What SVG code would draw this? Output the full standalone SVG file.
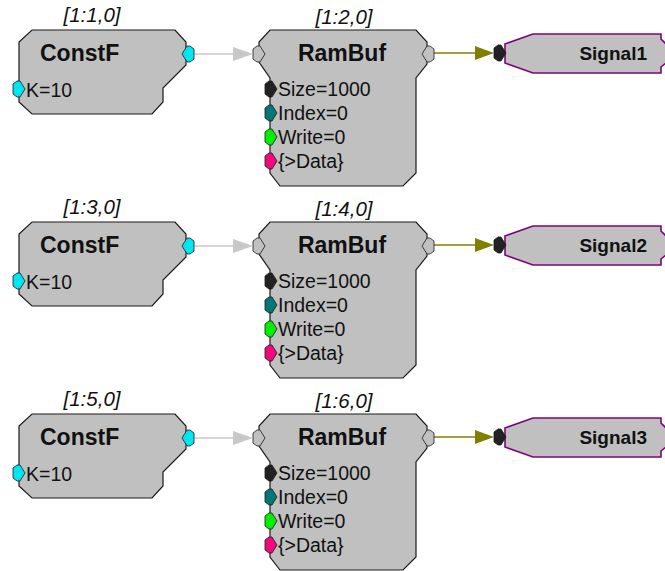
<svg xmlns="http://www.w3.org/2000/svg" xmlns:xlink="http://www.w3.org/1999/xlink" width="665" height="571" viewBox="0 0 665 571">
<style>
.box{fill:#c0c0c0;stroke:#1a1a1a;stroke-width:1.2}
.sig{fill:#c0c0c0;stroke:#800080;stroke-width:1.6}
.port{stroke:#1a1a1a;stroke-width:0.8}
.lbl{font-family:"Liberation Sans",Arial,sans-serif;font-style:italic;font-size:20.5px;fill:#111;text-anchor:middle}
.title{font-family:"Liberation Sans",Arial,sans-serif;font-weight:bold;font-size:23px;fill:#111}
.prm{font-family:"Liberation Sans",Arial,sans-serif;font-size:19.5px;fill:#111}
.stxt{font-family:"Liberation Sans",Arial,sans-serif;font-weight:bold;font-size:19px;fill:#111;text-anchor:end}
.gline{stroke:#c8c8c8;stroke-width:1.3;fill:none}
.oline{stroke:#808000;stroke-width:1.3;fill:none}
</style>
<defs>
<polygon id="pin" points="-6,-5 -2,-8 1,-8 6,0 1,8 -2,8 -6,5"/>
<polygon id="pout" points="6,-5 2,-8 -1,-8 -6,0 -1,8 2,8 6,5"/>
<g id="constf">
<polygon class="box" points="32,30 175,30 186,42 186,65 163,88 163,102 152,114 32,114 19,102 19,42"/>
<use xlink:href="#pout" x="188" y="54" class="port" fill="#00e5f0"/>
<use xlink:href="#pin" x="19" y="89" class="port" fill="#00e5f0"/>
<text class="title" x="40" y="61">ConstF</text>
<text class="prm" x="26" y="97">K=10</text>
</g>
<g id="rambuf">
<polygon class="box" points="270,30 416,30 427,42 427,64 416,78 416,173 403,186 280,186 270,173 270,78 259,62 259,42"/>
<use xlink:href="#pin" x="259" y="54" class="port" fill="#c0c0c0"/>
<use xlink:href="#pout" x="428" y="54" class="port" fill="#c0c0c0"/>
<use xlink:href="#pin" x="271" y="89" class="port" fill="#222222"/>
<use xlink:href="#pin" x="271" y="113" class="port" fill="#007878"/>
<use xlink:href="#pin" x="271" y="137" class="port" fill="#00f000"/>
<use xlink:href="#pin" x="271" y="161" class="port" fill="#f0087c"/>
<text class="title" x="342" y="61" text-anchor="middle">RamBuf</text>
<text class="prm" x="278" y="96">Size=1000</text>
<text class="prm" x="278" y="120">Index=0</text>
<text class="prm" x="278" y="144">Write=0</text>
<text class="prm" x="278" y="168">{&gt;Data}</text>
</g>
<g id="signal">
<polygon class="sig" points="505,44 533,34 661,34 661,39 667,45 667,62 661,67 661,73 533,73 505,63"/>
<use xlink:href="#pin" x="500" y="53" class="port" fill="#222222"/>
</g>
</defs>

<g id="connectors">
<line class="gline" x1="194" y1="54" x2="236" y2="54"/>
<polygon points="233,47 253,54 233,61" fill="#c8c8c8"/>
<line class="oline" x1="434" y1="53" x2="478" y2="53"/>
<polygon points="475,46 494,53 475,60" fill="#808000"/>
<line class="gline" x1="194" y1="246" x2="236" y2="246"/>
<polygon points="233,239 253,246 233,253" fill="#c8c8c8"/>
<line class="oline" x1="434" y1="245" x2="478" y2="245"/>
<polygon points="475,238 494,245 475,252" fill="#808000"/>
<line class="gline" x1="194" y1="438" x2="236" y2="438"/>
<polygon points="233,431 253,438 233,445" fill="#c8c8c8"/>
<line class="oline" x1="434" y1="437" x2="478" y2="437"/>
<polygon points="475,430 494,437 475,444" fill="#808000"/>
</g>

<g id="constf1"><use xlink:href="#constf"/><text class="lbl" x="92" y="22">[1:1,0]</text></g>
<g id="rambuf1"><use xlink:href="#rambuf"/><text class="lbl" x="344" y="24">[1:2,0]</text></g>
<g id="signal1"><use xlink:href="#signal"/><text class="stxt" x="647" y="60">Signal1</text></g>

<g id="constf2" transform="translate(0,192)"><use xlink:href="#constf"/><text class="lbl" x="92" y="22">[1:3,0]</text></g>
<g id="rambuf2" transform="translate(0,192)"><use xlink:href="#rambuf"/><text class="lbl" x="344" y="24">[1:4,0]</text></g>
<g id="signal2" transform="translate(0,192)"><use xlink:href="#signal"/><text class="stxt" x="647" y="60">Signal2</text></g>

<g id="constf3" transform="translate(0,384)"><use xlink:href="#constf"/><text class="lbl" x="92" y="22">[1:5,0]</text></g>
<g id="rambuf3" transform="translate(0,384)"><use xlink:href="#rambuf"/><text class="lbl" x="344" y="24">[1:6,0]</text></g>
<g id="signal3" transform="translate(0,384)"><use xlink:href="#signal"/><text class="stxt" x="647" y="60">Signal3</text></g>
</svg>
